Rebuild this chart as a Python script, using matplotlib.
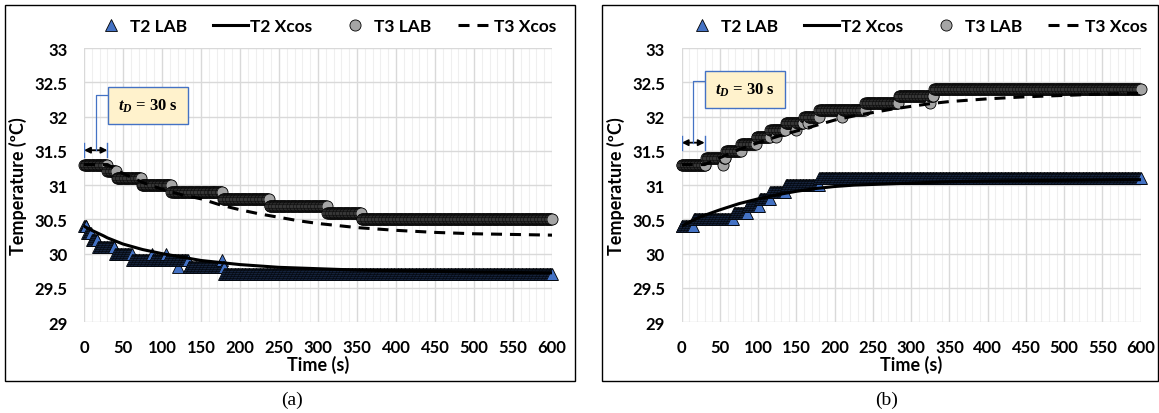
import numpy as np
import matplotlib.pyplot as plt
from matplotlib.patches import Rectangle

# lab data: step levels (start time of each level, level)
lab_step_s = 1  # logger sample spacing (s)

t2a_starts = [0, 4, 10, 18, 40, 62, 134, 180]
t2a_levels = [30.4, 30.3, 30.2, 30.1, 30.0, 29.9, 29.8, 29.7]
t2a_dip_t = [87, 105, 120, 177]
t2a_dip_v = [30.0, 30.0, 29.8, 29.9]

t3a_starts = [0, 30, 42, 74, 112, 178, 238, 312, 356]
t3a_levels = [31.3, 31.2, 31.1, 31.0, 30.9, 30.8, 30.7, 30.6, 30.5]
t3a_dip_t = [108, 165]
t3a_dip_v = [31.0, 30.9]

t2b_starts = [0, 16, 68, 86, 102, 116, 136, 180]
t2b_levels = [30.4, 30.5, 30.6, 30.7, 30.8, 30.9, 31.0, 31.1]
t2b_dip_t = []
t2b_dip_v = []

t3b_starts = [0, 32, 58, 78, 98, 116, 136, 160, 180, 240, 284, 330]
t3b_levels = [31.3, 31.4, 31.5, 31.6, 31.7, 31.8, 31.9, 32.0, 32.1, 32.2, 32.3, 32.4]
t3b_dip_t = [54, 123, 150, 165, 210, 324]
t3b_dip_v = [31.3, 31.7, 31.8, 31.9, 32.0, 32.2]

# Xcos simulation curves (read at a few times)
xcos_t = [0, 10, 25, 30, 50, 75, 100, 125, 150, 175, 200, 225, 250, 275, 300,
          325, 350, 375, 400, 450, 500, 550, 600]
t2a_xcos = [30.40, 30.34, 30.26, 30.23, 30.14, 30.06, 30.00, 29.95, 29.90, 29.87,
            29.84, 29.82, 29.80, 29.79, 29.78, 29.77, 29.76, 29.755, 29.75, 29.74,
            29.73, 29.725, 29.72]
t3a_xcos = [31.30, 31.30, 31.30, 31.30, 31.17, 31.04, 30.94, 30.86, 30.80, 30.71,
            30.64, 30.58, 30.53, 30.48, 30.44, 30.41, 30.38, 30.36, 30.34, 30.31,
            30.29, 30.28, 30.27]
t2b_xcos = [30.40, 30.46, 30.54, 30.56, 30.64, 30.73, 30.80, 30.86, 30.91, 30.95,
            30.98, 31.00, 31.01, 31.02, 31.03, 31.04, 31.05, 31.055, 31.06, 31.065,
            31.07, 31.075, 31.08]
t3b_xcos = [31.30, 31.30, 31.30, 31.30, 31.40, 31.52, 31.62, 31.71, 31.79, 31.87,
            31.95, 32.01, 32.06, 32.11, 32.15, 32.19, 32.22, 32.24, 32.26, 32.29,
            32.31, 32.33, 32.34]

x_ticks = list(range(0, 601, 50))
y_ticks = [29, 29.5, 30, 30.5, 31, 31.5, 32, 32.5, 33]
y_ticklabels = ['29', '29.5', '30', '30.5', '31', '31.5', '32', '32.5', '33']


def lab_series(starts, levels, dip_t, dip_v):
    t = np.arange(0, 601, lab_step_s)
    idx = np.searchsorted(starts, t, side='right') - 1
    v = np.array(levels)[idx]
    t = np.concatenate([t, dip_t]).astype(float)
    v = np.concatenate([v, dip_v])
    order = np.argsort(t, kind='stable')
    return t[order], v[order]


plt.rcParams['font.family'] = ['Lato', 'DejaVu Sans']
plt.rcParams['mathtext.fontset'] = 'custom'
plt.rcParams['mathtext.it'] = 'Liberation Serif:italic:bold'
plt.rcParams['mathtext.rm'] = 'Liberation Serif:bold'

fig = plt.figure(figsize=(11.59, 4.14), dpi=100)

panels = [
    dict(left=0.0725, width=0.4038, t2=(t2a_starts, t2a_levels, t2a_dip_t, t2a_dip_v),
         t2x=t2a_xcos, t3=(t3a_starts, t3a_levels, t3a_dip_t, t3a_dip_v), t3x=t3a_xcos,
         arrow_y=31.51, link_y=32.31, box_y=32.16, leg_x=0.515, tag='(a)', tag_x=0.252),
    dict(left=0.5882, width=0.3960, t2=(t2b_starts, t2b_levels, t2b_dip_t, t2b_dip_v),
         t2x=t2b_xcos, t3=(t3b_starts, t3b_levels, t3b_dip_t, t3b_dip_v), t3x=t3b_xcos,
         arrow_y=31.62, link_y=32.52, box_y=32.40, leg_x=0.51, tag='(b)', tag_x=0.765),
]

for p in panels:
    ax = fig.add_axes([p['left'], 0.2195, p['width'], 0.6618])

    t, v = lab_series(*p['t2'])
    ax.plot(t, v, linestyle='none', marker='^', markersize=8.5, markerfacecolor='#4472C4',
            markeredgecolor='black', markeredgewidth=0.6, clip_on=False, zorder=3,
            label='T2 LAB')
    ax.plot(xcos_t, p['t2x'], color='black', lw=2.2, zorder=4, label='T2 Xcos')
    t, v = lab_series(*p['t3'])
    ax.plot(t, v, linestyle='none', marker='o', markersize=8, markerfacecolor='#A5A5A5',
            markeredgecolor='black', markeredgewidth=0.6, clip_on=False, zorder=5,
            label='T3 LAB')
    ax.plot(xcos_t, p['t3x'], color='black', lw=2.2, linestyle=(0, (3.6, 2.6)), zorder=6,
            label='T3 Xcos')

    ax.set_xlim(0, 600)
    ax.set_ylim(29, 33)
    ax.set_xticks(x_ticks)
    ax.set_xticks(range(0, 601, 10), minor=True)
    ax.set_yticks(y_ticks)
    ax.set_yticklabels(y_ticklabels)
    ax.grid(which='major', color='#D9D9D9', lw=1)
    ax.grid(which='minor', axis='x', color='#EFEFEF', lw=0.8)
    ax.set_axisbelow(True)
    for s in ax.spines.values():
        s.set_visible(False)
    ax.tick_params(which='both', length=0)
    ax.tick_params(axis='y', pad=12, labelsize=12)
    ax.tick_params(axis='x', pad=12, labelsize=12)
    for lab in ax.get_xticklabels() + ax.get_yticklabels():
        lab.set_fontweight('bold')
    ax.set_xlabel('Time (s)', fontsize=13, fontweight='bold', labelpad=0)
    ax.set_ylabel('Temperature (ºC)', fontsize=13, fontweight='bold', labelpad=5)

    ax.legend(loc='center', bbox_to_anchor=(p['leg_x'], 1.079), ncol=4, frameon=False,
              numpoints=1, handlelength=2.0, handletextpad=0.1, columnspacing=1.5,
              prop=dict(weight='bold', size=12.5))

    # delay annotation
    ay = p['arrow_y']
    ax.annotate('', xy=(0, ay), xytext=(30, ay),
                arrowprops=dict(arrowstyle='<|-|>', color='black', lw=1.3,
                                mutation_scale=9, shrinkA=0, shrinkB=0), zorder=7)
    ax.plot([0, 0], [ay - 0.1, ay + 0.1], color='#4472C4', lw=1, zorder=7)
    ax.plot([30, 30], [ay - 0.1, ay + 0.1], color='#4472C4', lw=1, zorder=7)
    ax.plot([15, 15, 35], [ay, p['link_y'], p['link_y']], color='#4472C4', lw=0.9, zorder=7)
    ax.text(44, p['box_y'], r'$t_D$ = 30 s', fontsize=12, ha='left', va='center',
            family='Liberation Serif', fontweight='bold', zorder=8,
            bbox=dict(boxstyle='square,pad=0.6', facecolor='#FFF2CC',
                      edgecolor='#4472C4', lw=1))

    fig.text(p['tag_x'], 0.033, p['tag'], fontsize=14, family='Liberation Serif',
             ha='center', va='center')

# chart area borders
fig.add_artist(Rectangle((0.0043, 0.0773), 0.4918, 0.9082, transform=fig.transFigure,
                         fill=False, edgecolor='black', lw=1))
fig.add_artist(Rectangle((0.5194, 0.0773), 0.4800, 0.9082, transform=fig.transFigure,
                         fill=False, edgecolor='black', lw=1))

fig.savefig('out.png', dpi=100)
